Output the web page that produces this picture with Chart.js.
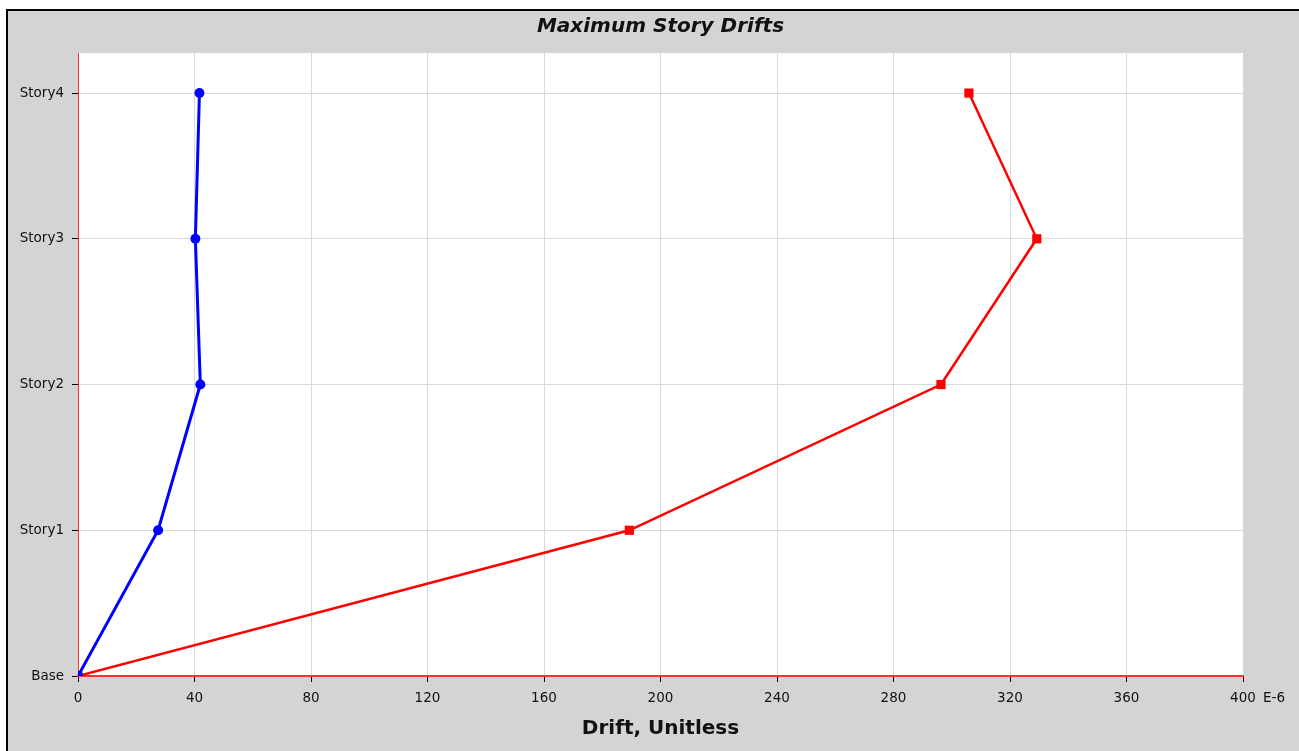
<!DOCTYPE html>
<html>
<head>
<meta charset="utf-8">
<script src="https://cdn.jsdelivr.net/npm/chart.js@4.4.1/dist/chart.umd.min.js"></script>
<style>
  html, body { margin: 0; padding: 0; background: #fff; }
  #frame {
    position: absolute; left: 6px; top: 9px;
    width: 1291px; height: 740px;
    border-top: 2px solid #000; border-left: 2px solid #000;
    background: #d4d4d4;
  }
  #chart { display: block; }
</style>
</head>
<body>
<div id="frame"><canvas id="chart" width="1291" height="740"></canvas></div>
<script>
// story levels, bottom to top
const stories = ["Base", "Story1", "Story2", "Story3", "Story4"];
// drift values (E-6)
const driftX = [0, 27.5, 42.0, 40.3, 41.7];
const driftY = [0, 189.3, 296.3, 329.2, 305.9];
const xTicks = [0, 40, 80, 120, 160, 200, 240, 280, 320, 360, 400];

const FONT = "'DejaVu Sans', Verdana, sans-serif";
const toPoints = vals => vals.map((v, i) => ({ x: v, y: i }));

// gray background and the "E-6" tag after the last tick
const extras = {
    id: "extras",
    beforeDraw(chart) {
        const ctx = chart.ctx;
        ctx.save();
        ctx.fillStyle = "#d4d4d4";
        ctx.fillRect(0, 0, chart.width, chart.height);
        const a = chart.chartArea;
        ctx.fillStyle = "#fff";
        ctx.fillRect(a.left, a.top, a.right - a.left, a.bottom - a.top);
        ctx.restore();
    },
    afterDraw(chart) {
        const ctx = chart.ctx;
        const x = chart.scales.x;
        ctx.save();
        ctx.font = "13.5px " + FONT;
        ctx.fillStyle = "#111";
        ctx.textBaseline = "top";
        ctx.fillText("E-6", x.right + 20, x.top + 16);
        ctx.restore();
    }
};

const ctx = document.getElementById("chart").getContext("2d");
new Chart(ctx, {
    type: "line",
    data: {
        datasets: [
            {
                label: "X",
                data: toPoints(driftX),
                borderColor: "#0000ff",
                backgroundColor: "#0000ff",
                borderWidth: 3,
                pointStyle: "circle",
                pointRadius: 5,
                pointBorderWidth: 0,
                fill: false
            },
            {
                label: "Y",
                data: toPoints(driftY),
                borderColor: "#ff0000",
                backgroundColor: "#ff0000",
                borderWidth: 2.5,
                pointStyle: "rect",
                pointRadius: 6.5,
                pointBorderWidth: 0,
                fill: false
            }
        ]
    },
    options: {
        responsive: false,
        animation: false,
        layout: { padding: { left: 0, right: 56, top: 0, bottom: 0 } },
        plugins: {
            legend: { display: false },
            tooltip: { enabled: false },
            title: {
                display: true,
                fullSize: false,
                text: "Maximum Story Drifts",
                color: "#111",
                font: { family: FONT, size: 20, weight: "bold", style: "italic" },
                padding: { top: 4, bottom: 14 }
            }
        },
        scales: {
            x: {
                type: "linear",
                min: 0,
                max: 400,
                afterBuildTicks: s => { s.ticks = xTicks.map(v => ({ value: v })); },
                afterFit: s => { s.height = 75; },
                ticks: {
                    color: "#111",
                    padding: 8,
                    maxRotation: 0,
                    font: { family: FONT, size: 13.5 }
                },
                grid: { color: "#d9d9d9", tickColor: "#000", tickLength: 6, lineWidth: 1 },
                border: { color: "#ff3030", width: 2 },
                title: {
                    display: true,
                    text: "Drift, Unitless",
                    color: "#111",
                    font: { family: FONT, size: 20, weight: "bold" },
                    padding: { top: 0, bottom: 10 }
                }
            },
            y: {
                type: "linear",
                min: 0,
                max: 4.275,
                afterBuildTicks: s => { s.ticks = stories.map((_, i) => ({ value: i })); },
                afterFit: s => { s.width = 70; },
                ticks: {
                    color: "#111",
                    padding: 8,
                    font: { family: FONT, size: 13.5 },
                    callback: v => stories[v] ?? ""
                },
                grid: { color: "#d9d9d9", tickColor: "#000", tickLength: 6, lineWidth: 1 },
                border: { color: "#ff3030", width: 1 }
            }
        }
    },
    plugins: [extras]
});
</script>
</body>
</html>
